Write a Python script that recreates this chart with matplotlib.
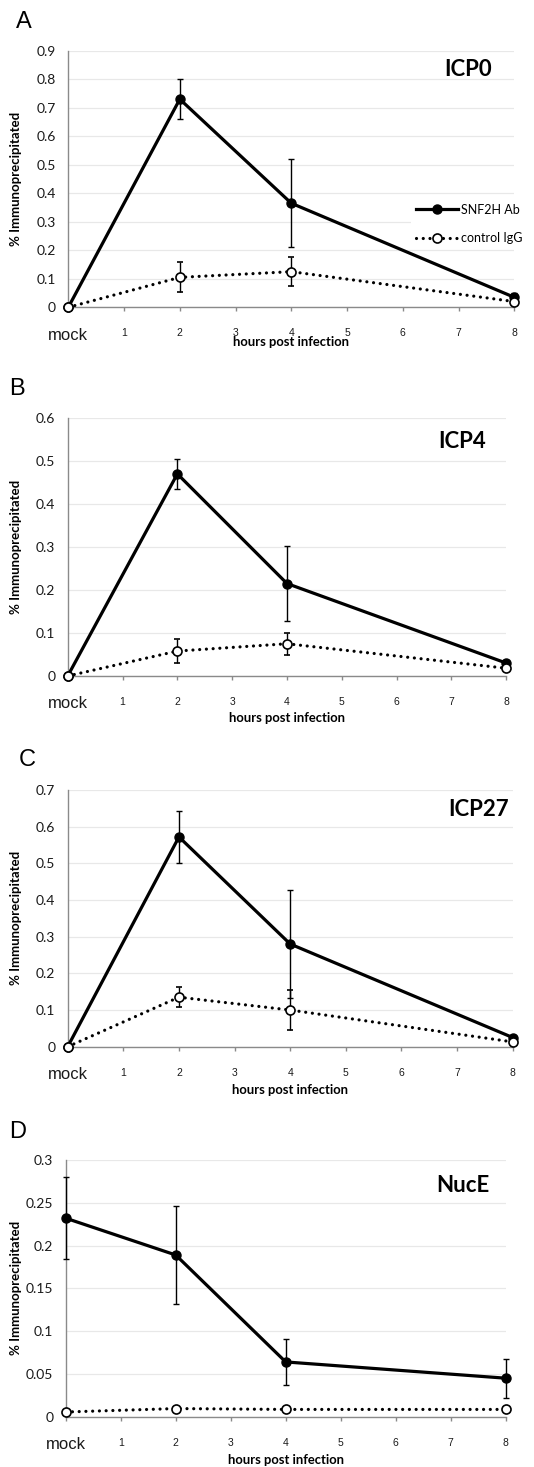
import matplotlib.pyplot as plt
from matplotlib.lines import Line2D

plt.rcParams["font.family"] = ["Lato", "DejaVu Sans"]

hours = [0, 2, 4, 8]
xtick_pos = [0, 1, 2, 3, 4, 5, 6, 7, 8]
xtick_labels = ["", "1", "2", "3", "4", "5", "6", "7", "8"]

icp0_snf2h = [0, 0.73, 0.365, 0.035]
icp0_snf2h_err = [0, 0.07, 0.155, 0.015]
icp0_igg = [0, 0.105, 0.125, 0.02]
icp0_igg_err = [0, 0.053, 0.05, 0.004]

icp4_snf2h = [0, 0.47, 0.215, 0.03]
icp4_snf2h_err = [0, 0.035, 0.087, 0.005]
icp4_igg = [0, 0.058, 0.075, 0.018]
icp4_igg_err = [0, 0.028, 0.026, 0.003]

icp27_snf2h = [0, 0.572, 0.28, 0.025]
icp27_snf2h_err = [0, 0.07, 0.147, 0.005]
icp27_igg = [0, 0.135, 0.1, 0.013]
icp27_igg_err = [0, 0.027, 0.055, 0.003]

nuce_snf2h = [0.232, 0.189, 0.064, 0.045]
nuce_snf2h_err = [0.048, 0.057, 0.027, 0.023]
nuce_igg = [0.0055, 0.0095, 0.0085, 0.0085]
nuce_igg_err = [0, 0, 0, 0]

W, H = 534, 1467
fig = plt.figure(figsize=(W / 100, H / 100), dpi=100)


def px_box(left, top, right, bottom):
    return [left / W, 1 - bottom / H, (right - left) / W, (bottom - top) / H]


panels = [
    # letter, name, snf2h, err, igg, err, ymax, ystep, axes box, letter pos, name pos, xlabel offset
    ("A", "ICP0", icp0_snf2h, icp0_snf2h_err, icp0_igg, icp0_igg_err, 0.9, 0.1,
     (68.3, 50.7, 514.3, 307.3), (16, 22), (492, 70), 35),
    ("B", "ICP4", icp4_snf2h, icp4_snf2h_err, icp4_igg, icp4_igg_err, 0.6, 0.1,
     (67.7, 418, 506.3, 676), (9, 389), (486, 442), 42),
    ("C", "ICP27", icp27_snf2h, icp27_snf2h_err, icp27_igg, icp27_igg_err, 0.7, 0.1,
     (67.7, 790, 512.7, 1046.7), (19, 760), (509, 809), 43),
    ("D", "NucE", nuce_snf2h, nuce_snf2h_err, nuce_igg, nuce_igg_err, 0.3, 0.05,
     (65.7, 1160, 505.7, 1416.7), (9, 1132), (490, 1185), 43),
]

spine_col = "#8a8a8a"
dots = (0, (0.01, 2.1))

for i, (letter, name, snf, snf_err, igg, igg_err, ymax, ystep, bx, lpos, npos, xl_off) in enumerate(panels):
    ax = fig.add_axes(px_box(*bx))
    ax.set_xlim(0, 8)
    ax.set_ylim(0, ymax)

    nticks = int(round(ymax / ystep)) + 1
    yt = [round(k * ystep, 3) for k in range(nticks)]
    ax.set_yticks(yt)
    ax.set_yticklabels([f"{v:g}" for v in yt])
    ax.set_xticks(xtick_pos)
    ax.set_xticklabels(xtick_labels, family="Liberation Sans")

    ax.grid(axis="y", color="#e8e8e8", lw=0.9)
    ax.set_axisbelow(True)
    for s in ["top", "right"]:
        ax.spines[s].set_visible(False)
    for s in ["left", "bottom"]:
        ax.spines[s].set_color(spine_col)
        ax.spines[s].set_linewidth(1.0)
    ax.tick_params(axis="y", length=0, pad=9, labelsize=10, labelcolor="#1a1a1a")
    ax.tick_params(axis="x", length=3, width=1, color=spine_col, direction="out",
                   pad=12, labelsize=7.5, labelcolor="#1a1a1a")

    # SNF2H antibody: solid line, filled markers
    ax.errorbar(hours, snf, yerr=snf_err, color="black", lw=2.3, marker="o",
                ms=6.5, mfc="black", mec="black", ecolor="black", elinewidth=1.0,
                capsize=2.5, capthick=1.0, clip_on=False, zorder=3)
    # control IgG: dotted line, open markers
    eb = ax.errorbar(hours, igg, yerr=igg_err, color="black", lw=2.3, ls=dots,
                     marker="o", ms=6.5, mfc="white", mec="black", mew=1.2,
                     ecolor="black", elinewidth=1.0, capsize=2.5, capthick=1.0,
                     clip_on=False, zorder=4)
    eb[0].set_dash_capstyle("round")
    for c in list(eb[1]) + list(eb[2]):
        c.set_clip_on(False)

    ax.annotate("mock", xy=(0, 0), xycoords=("data", "axes fraction"),
                xytext=(0, -28), textcoords="offset pixels",
                ha="center", va="center", fontsize=12,
                family="Liberation Sans", color="#1a1a1a")
    ax.annotate("hours post infection", xy=(0.5, 0), xycoords="axes fraction",
                xytext=(0, -xl_off), textcoords="offset pixels",
                ha="center", va="center", fontsize=9.4, fontweight="bold")
    ax.set_ylabel("% Immunoprecipitated", fontsize=9.5, fontweight="bold")
    ax.yaxis.set_label_coords(-(bx[0] - 22) / (bx[2] - bx[0]), 0.5)

    fig.text(npos[0] / W, 1 - npos[1] / H, name, ha="right", va="center",
             fontsize=16, fontweight="bold")
    fig.text(lpos[0] / W, 1 - lpos[1] / H, letter, ha="left", va="center",
             fontsize=17, family="Liberation Sans")

    if i == 0:
        handles = [
            Line2D([], [], color="black", lw=2.3, marker="o", ms=6.5,
                   mfc="black", mec="black"),
            Line2D([], [], color="black", lw=2.3, ls=dots, marker="o", ms=6.5,
                   mfc="white", mec="black", mew=1.2, dash_capstyle="round"),
        ]
        leg = ax.legend(handles, ["SNF2H Ab", "control IgG"],
                        loc="center left", bbox_to_anchor=(0.755, 0.325),
                        fontsize=9, frameon=True, handlelength=3.3,
                        handletextpad=0.3, labelspacing=1.3, borderpad=0.4)
        leg.get_frame().set_edgecolor("none")
        leg.get_frame().set_facecolor("white")
        leg.get_frame().set_alpha(1)

fig.savefig("out.png", dpi=100)
